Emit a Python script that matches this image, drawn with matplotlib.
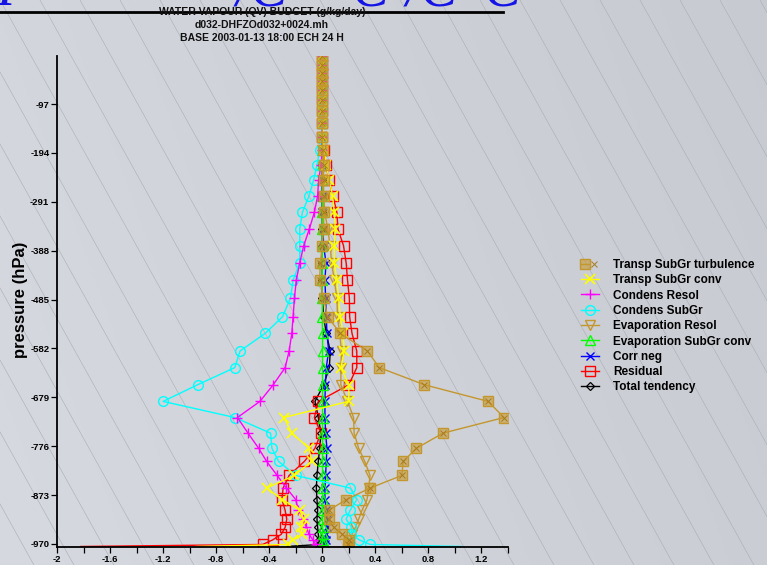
import numpy as np
import matplotlib
matplotlib.use("Agg")
import matplotlib.pyplot as plt
from matplotlib.legend_handler import HandlerTuple

plt.rcParams['font.family'] = ['Liberation Sans', 'DejaVu Sans']

# model levels (hPa)
levels = [2, 20, 35, 51, 69, 89, 111, 135, 162, 188, 218, 248, 279, 312, 345,
          378, 412, 446, 482, 519, 552, 587, 620, 654, 687, 719, 750, 780, 806,
          834, 859, 882, 903, 921, 937, 951, 962, 971, 975]

# budget terms (g/kg/day)
turb_subgr = [0, 0, 0, 0, 0, 0, 0, 0, 0, 0.005, 0.01, 0.01, 0.01, 0.01, 0.01,
              0.0, -0.015, -0.02, 0.01, 0.04, 0.136, 0.34, 0.43, 0.77, 1.25,
              1.37, 0.91, 0.71, 0.61, 0.60, 0.36, 0.18, 0.05, 0.05, 0.085,
              0.15, 0.205, 0.195, 0.2]
conv_subgr = [0, 0, 0, 0, 0, 0, 0, 0, 0.005, 0.015, 0.03, 0.053, 0.078, 0.09,
              0.098, 0.09, 0.09, 0.11, 0.123, 0.136, 0.156, 0.166, 0.14, 0.20,
              0.199, -0.29, -0.23, -0.10, -0.08, -0.21, -0.42, -0.30, -0.17,
              -0.14, -0.16, -0.155, -0.22, -0.26, -0.95]
condens_resol = [0, 0, 0, 0, 0, 0, 0, 0, 0, 0, -0.01, -0.028, -0.035, -0.06,
                 -0.098, -0.14, -0.17, -0.196, -0.21, -0.22, -0.23, -0.25,
                 -0.28, -0.37, -0.47, -0.64, -0.56, -0.48, -0.42, -0.34, -0.27,
                 -0.20, -0.18, -0.146, -0.12, -0.10, -0.07, -0.05, -0.04]
condens_subgr = [0, 0, 0, 0, 0, 0, 0, 0, -0.005, -0.02, -0.04, -0.066, -0.10,
                 -0.15, -0.17, -0.17, -0.17, -0.22, -0.24, -0.30, -0.43, -0.62,
                 -0.66, -0.94, -1.20, -0.66, -0.39, -0.38, -0.33, -0.20, 0.21,
                 0.26, 0.21, 0.18, 0.22, 0.22, 0.28, 0.36, 1.05]
evap_resol = [0, 0, 0, 0, 0, 0, 0, 0, 0, 0, 0, 0, 0.01, 0.02, 0.04, 0.06, 0.07,
              0.09, 0.11, 0.115, 0.13, 0.145, 0.14, 0.14, 0.19, 0.236, 0.24,
              0.274, 0.32, 0.36, 0.35, 0.337, 0.30, 0.274, 0.25, 0.224, 0.21,
              0.20, 0.2]
evap_subgr = [0, 0, 0, 0, 0, 0, 0, 0, 0, 0, 0, 0, 0, 0, 0, 0, 0, 0, 0, 0,
              0.002, 0.002, 0.002, 0.002, 0.002, 0.002, 0.002, 0.002, 0.002,
              0.002, 0.002, 0.002, 0.002, 0.002, 0.002, 0.002, 0.002, 0.002,
              0.002]
corr_neg = [0, 0, 0, 0, 0, 0, 0, 0, 0, 0, 0, 0, 0, 0, 0.005, 0.01, 0.028, 0.02,
            0.025, 0.03, 0.035, 0.048, 0.03, 0.023, 0.02, 0.02, 0.025, 0.035,
            0.03, 0.025, 0.02, 0.02, 0.03, 0.035, 0.035, 0.03, 0.025, 0.02,
            0.02]
residual = [0, 0, 0, 0, 0, 0, 0, 0, 0, 0.01, 0.03, 0.05, 0.08, 0.11, 0.118,
            0.16, 0.18, 0.19, 0.204, 0.206, 0.224, 0.26, 0.26, 0.20, -0.03,
            -0.06, -0.01, -0.055, -0.135, -0.25, -0.295, -0.305, -0.28,
            -0.268, -0.28, -0.31, -0.375, -0.45, -1.82]
total_tend = [0, 0, 0, 0, 0, 0, 0, 0, 0, 0, 0, 0, 0, 0, 0, 0, 0, 0, 0, 0.01,
              0.03, 0.06, 0.053, 0.01, -0.055, -0.03, -0.01, -0.02, -0.03,
              -0.04, -0.045, -0.04, -0.035, -0.04, -0.035, -0.03, -0.025,
              -0.02, -0.27]

ytick_vals = [-97, -194, -291, -388, -485, -582, -679, -776, -873, -970]
xtick_vals = [-2, -1.6, -1.2, -0.8, -0.4, 0, 0.4, 0.8, 1.2]
xtick_labels = ['-2', '-1.6', '-1.2', '-0.8', '-0.4', '0', '0.4', '0.8', '1.2']

titles = ['WATER VAPOUR (QV) BUDGET (g/kg/day)',
          'd032-DHFZOd032+0024.mh',
          'BASE 2003-01-13 18:00 ECH 24 H']

W, H = 767, 565
fig = plt.figure(figsize=(W / 100, H / 100), dpi=100)

# grey backdrop with thin diagonal rules
bg = fig.add_axes([0, 0, 1, 1], zorder=-10)
gx, gy = np.meshgrid(np.linspace(0, 1, 200), np.linspace(0, 1, 200))
shade = 0.835 - 0.045 * gx + 0.012 * gy
img = np.dstack([shade - 0.008, shade + 0.004, shade + 0.028])
bg.imshow(np.clip(img, 0, 1), extent=[0, W, H, 0], aspect='auto')
for x0 in range(-400, W + 40, 40):
    bg.plot([x0, x0 + H / 1.8], [0, H], color='#a9adb5', lw=0.4, zorder=1)
bg.set_xlim(0, W)
bg.set_ylim(H, 0)
bg.axis('off')

# bits of the big blue header, cut off by the top edge
for xp, s in [(-4, 'I'), (236, '/C'), (352, 'C'), (406, '/C'), (484, 'C')]:
    fig.text(xp / W, 1 - 5 / H, s, color='#1414e6', fontsize=40,
             family='Liberation Serif', style='italic', va='baseline')

fig.add_artist(plt.Line2D([0, 503 / W], [1 - 12 / H, 1 - 12 / H],
                          color='black', lw=2.0, transform=fig.transFigure))
for yp, t in zip([12, 25, 38], titles):
    fig.text(262 / W, 1 - yp / H, t, ha='center', va='center',
             fontsize=7.5, fontweight='bold', color='#111111')

ax = fig.add_axes([57 / W, 1 - 547 / H, (508 - 57) / W, (547 - 56) / H])
ax.set_facecolor('none')

y = -np.array(levels)
gold = '#c4972e'
gold_fill = (0.78, 0.60, 0.18, 0.6)
# no marker on the surface value
mk = list(range(len(levels) - 1))

# drawn bottom-up: first legend entry ends on top
h_tot = ax.plot(total_tend, y, color='black', lw=1.0, marker='D', ms=4.5,
                mfc='none', mew=0.9, markevery=mk)[0]
h_res = ax.plot(residual, y, color='#ff0000', lw=1.0, marker='s', ms=7,
                mfc='none', mew=1.0, markevery=mk)[0]
h_corr = ax.plot(corr_neg, y, color='#0000ff', lw=1.0, marker='x', ms=5.5,
                 mew=1.0, markevery=mk)[0]
h_esub = ax.plot(evap_subgr, y, color='#00ff00', lw=1.0, marker='^', ms=6.5,
                 mfc='none', mew=1.0, markevery=mk)[0]
h_eres = ax.plot(evap_resol, y, color=gold, lw=1.0, marker='v', ms=6.5,
                 mfc='none', mew=1.0, markevery=mk)[0]
h_csub = ax.plot(condens_subgr, y, color='#00ffff', lw=1.0, marker='o', ms=7,
                 mfc='none', mew=1.0, markevery=mk)[0]
h_cres = ax.plot(condens_resol, y, color='#ff00ff', lw=1.0, marker='+', ms=7,
                 mew=1.0, markevery=mk)[0]
h_conv = ax.plot(conv_subgr, y, color='#ffff00', lw=1.0, marker='x', ms=6.5,
                 mew=1.2, markevery=mk)[0]
h_turb = ax.plot(turb_subgr, y, color=gold, lw=1.0, marker='s', ms=6.5,
                 mfc=gold_fill, mec=gold, mew=1.0, markevery=mk)[0]
h_turb_x = ax.plot(turb_subgr[:-1], y[:-1], ls='none', marker='x', ms=4,
                   color='#a87a1e', mew=0.7)[0]

ax.set_xlim(-2, 1.4)
ax.set_ylim(-976, -1.5)
ax.set_xticks(xtick_vals)
ax.set_xticklabels(xtick_labels)
ax.set_xticks(np.arange(-1.8, 1.41, 0.4), minor=True)
ax.set_yticks(ytick_vals)
ax.set_yticklabels([str(v) for v in ytick_vals])
for sp in ['top', 'right']:
    ax.spines[sp].set_visible(False)
for sp in ['left', 'bottom']:
    ax.spines[sp].set_linewidth(1.3)
ax.tick_params(axis='both', which='both', direction='out', length=4,
               width=0.9, pad=1.5, labelsize=6.8)
for lab in ax.get_xticklabels() + ax.get_yticklabels():
    lab.set_fontweight('bold')

fig.text(21 / W, 1 - 300 / H, 'pressure (hPa)', rotation=90, ha='center',
         va='center', fontsize=12, fontweight='bold')

handles = [(h_turb, h_turb_x), h_conv, h_cres, h_csub, h_eres, h_esub,
           h_corr, h_res, h_tot]
labels = ['Transp SubGr turbulence', 'Transp SubGr conv', 'Condens Resol',
          'Condens SubGr', 'Evaporation Resol', 'Evaporation SubGr conv',
          'Corr neg', 'Residual', 'Total tendency']
leg = fig.legend(handles, labels, loc='upper left',
                 bbox_to_anchor=(581 / W, 1 - 259 / H), frameon=False,
                 handlelength=1.5, handletextpad=1.2,
                 labelspacing=0.28, borderpad=0, borderaxespad=0,
                 handler_map={tuple: HandlerTuple(ndivide=None)},
                 prop={'weight': 'bold', 'size': 8.5})

fig.savefig('out.png', dpi=100)
